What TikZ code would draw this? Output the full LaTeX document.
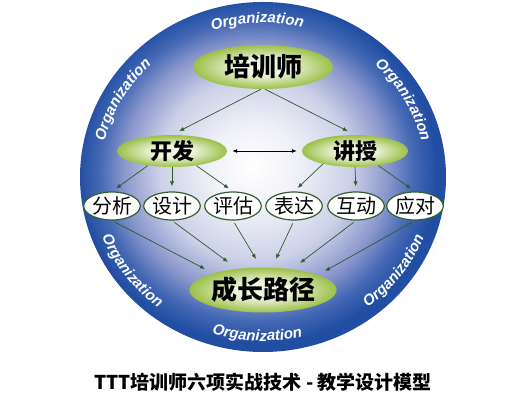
\documentclass[tikz,border=0pt]{standalone}
\usepackage{fontspec}
\usetikzlibrary{arrows.meta,shapes.geometric,decorations.text}
\newfontfamily\cjk{Noto Sans CJK SC}
\newfontfamily\orgfont{Liberation Sans}

\definecolor{orgblue}{RGB}{33,78,163}
\definecolor{orgdeep}{RGB}{68,104,180}
\definecolor{orgmid}{RGB}{140,152,205}
\definecolor{orglight}{RGB}{205,209,232}
\definecolor{orgpale}{RGB}{240,241,248}
\definecolor{leaf}{RGB}{155,192,72}
\definecolor{leafpale}{RGB}{240,245,225}
\definecolor{leafdark}{RGB}{50,95,50}
\definecolor{arrowgreen}{RGB}{45,90,45}

\pgfdeclareradialshading{orgball}{\pgfpoint{-1.5bp}{1.5bp}}{color(0bp)=(white); color(6bp)=(orgpale); color(13bp)=(orglight); color(18bp)=(orgmid); color(21.5bp)=(orgdeep); color(24.5bp)=(orgblue); color(50bp)=(orgblue)}
\pgfdeclareradialshading{nodeball}{\pgfpoint{0bp}{0bp}}{color(0bp)=(leafpale); color(9bp)=(leafpale); color(25bp)=(leaf); color(50bp)=(leaf)}

\tikzset{
    bignode/.style={ellipse, shade, shading=nodeball, inner sep=0pt,
        font=\cjk\bfseries\fontsize{22}{22}\selectfont},
    smallnode/.style={ellipse, draw=leafdark, line width=1.2pt, fill=white,
        minimum width=56pt, minimum height=28pt, inner sep=0pt,
        font=\cjk\fontsize{20}{20}\selectfont},
    arr/.style={-{Latex[length=5pt,width=4pt]}, draw=arrowgreen, line width=0.7pt},
    orgtext/.style={decorate, decoration={text along path, text align=center,
        text color=white,
        text={|\orgfont\bfseries\itshape\fontsize{15}{15}\selectfont|Organization}}}
}

\begin{document}
\begin{tikzpicture}[x=1pt, y=1pt]
    \useasboundingbox (0,0) rectangle (521,406);
    \shade[shading=orgball] (263,229) ellipse [x radius=183, y radius=175];

    % 外周の文字を円に沿って配置
    \begin{scope}[shift={(263,229)}]
        \foreach \a in {172, 114, 52} {
            \path[orgtext] (\a:163 and 154) arc[start angle=\a, end angle=\a-44, x radius=163, y radius=154];
        }
        \foreach \a in {195, 246, 301} {
            \path[orgtext] (\a:173 and 164) arc[start angle=\a, end angle=\a+44, x radius=173, y radius=164];
        }
    \end{scope}

    \node[bignode, minimum width=140pt, minimum height=44pt,
        font=\cjk\bfseries\fontsize{26}{26}\selectfont] (pxs) at (263,339) {培训师};
    \node[bignode, minimum width=110pt, minimum height=32pt] (kf) at (172,255) {开发};
    \node[bignode, minimum width=106pt, minimum height=32pt] (js) at (355,255) {讲授};
    \node[bignode, minimum width=132pt, minimum height=45pt,
        font=\cjk\bfseries\fontsize{26}{26}\selectfont] (czlj) at (263,116) {成长路径};

    \foreach \x/\name/\txt in {112/fx/分析, 172/sj/设计, 233/pg/评估, 294/bd/表达, 356/hd/互动, 415/yd/应对} {
        \node[smallnode] (\name) at (\x,200) {\txt};
    }

    \draw[arr, shorten >=8pt] (pxs.265) -- (kf.north);
    \draw[arr, shorten >=8pt] (pxs.275) -- (js.north);
    \draw[{Latex[length=5pt,width=4pt]}-{Latex[length=5pt,width=4pt]}, line width=0.8pt,
        shorten <=5pt, shorten >=5pt] (kf.east) -- (js.west);

    \foreach \a/\b in {211/fx, 270/sj, 329/pg} {
        \draw[arr, shorten >=5pt] (kf.\a) -- (\b.north);
    }
    \foreach \a/\b in {202/bd, 270/hd, 328/yd} {
        \draw[arr, shorten >=5pt] (js.\a) -- (\b.north);
    }

    % 下段の楕円から成長路径へ
    \foreach \b/\dx/\dy [count=\i] in {fx/-58/21, sj/-35/28, pg/-7/31, bd/13/31, hd/37/27, yd/62/19} {
        \coordinate (tip\i) at ([shift={(\dx,\dy)}]czlj.center);
        \draw[arr, shorten <=3pt] (\b.south) -- (tip\i);
    }

    \node[font=\cjk\bfseries\fontsize{19}{19}\selectfont] (title) at (263,24)
        {TTT培训师六项实战技术 - 教学设计模型};
\end{tikzpicture}
\end{document}
